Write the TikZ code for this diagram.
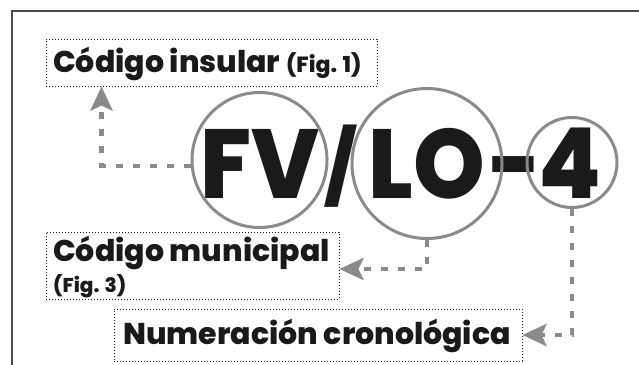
\documentclass[tikz,border=0pt]{standalone}
\usepackage{fontspec}
\setmainfont{Poppins}
\newfontfamily\heavy{Poppins ExtraBold}
\newfontfamily\heavybig{Poppins ExtraBold}[FakeStretch=0.93]
\usetikzlibrary{arrows.meta}
\definecolor{ringgray}{HTML}{8A8A8A}
\definecolor{ink}{HTML}{1A1A1A}
\definecolor{framegray}{HTML}{4A4A4A}
\tikzset{
  ring/.style={circle, draw=ringgray, line width=3pt, inner sep=0pt},
  bigtxt/.style={font=\fontsize{98}{98}\selectfont\heavybig, text=ink, inner sep=0pt, anchor=base},
  dotbox/.style={draw=ink, dotted, line width=1pt, inner sep=0pt},
  lbltxt/.style={text=ink, inner sep=0pt, anchor=base west, font=\heavy},
  conn/.style={draw=ringgray, line width=4.5pt, dash pattern=on 7pt off 10pt,
    -{Stealth[length=24pt, width=22pt, inset=5pt, fill=ringgray]}},
}
\begin{document}
\begin{tikzpicture}[x=1pt, y=-1pt]
\useasboundingbox (0,0) rectangle (639,364);
\draw[framegray, line width=2pt] (12,370) -- (12,11) -- (645,11);
% big code
\node[bigtxt] (fv) at (260,198) {FV};
\node[bigtxt, font=\fontsize{72}{72}\selectfont\heavy] (sl) at (341,193) {/};
\node[bigtxt] (lo) at (427,198) {LO};
\node[bigtxt] (hy) at (516,198) {-};
\node[bigtxt] (four) at (570,198) {4};
\node[ring, minimum size=135pt] (fvc) at (259.5,160) {};
\node[ring, minimum size=150pt] (loc) at (427,163.5) {};
\node[ring, minimum size=90pt] (fourc) at (572,162.5) {};
% labels
\node[dotbox, minimum width=331pt, minimum height=47pt] (insbox) at (211.5,62.5) {};
\node[lbltxt] (instext) at (53,72) {\fontsize{30}{30}\selectfont Código insular {\fontsize{22}{22}\selectfont (Fig. 1)}};
\node[dotbox, minimum width=293pt, minimum height=67pt] (munbox) at (192.5,265.5) {};
\node[lbltxt] (muntext) at (53,261) {\fontsize{30}{30}\selectfont Código municipal};
\node[lbltxt] (munfig) at (53,292) {\fontsize{20}{20}\selectfont (Fig. 3)};
\node[dotbox, minimum width=408pt, minimum height=52pt] (numbox) at (318,335) {};
\node[lbltxt] (numtext) at (123,344) {\fontsize{30}{30}\selectfont Numeración cronológica};
% connectors
\draw[conn] (fvc.185) -| ([xshift=56pt]insbox.south west);
\draw[conn] (loc.south) |- ([yshift=-3.5pt]munbox.east);
\draw[conn] (fourc.south) |- (numbox.east);
\end{tikzpicture}
\end{document}
